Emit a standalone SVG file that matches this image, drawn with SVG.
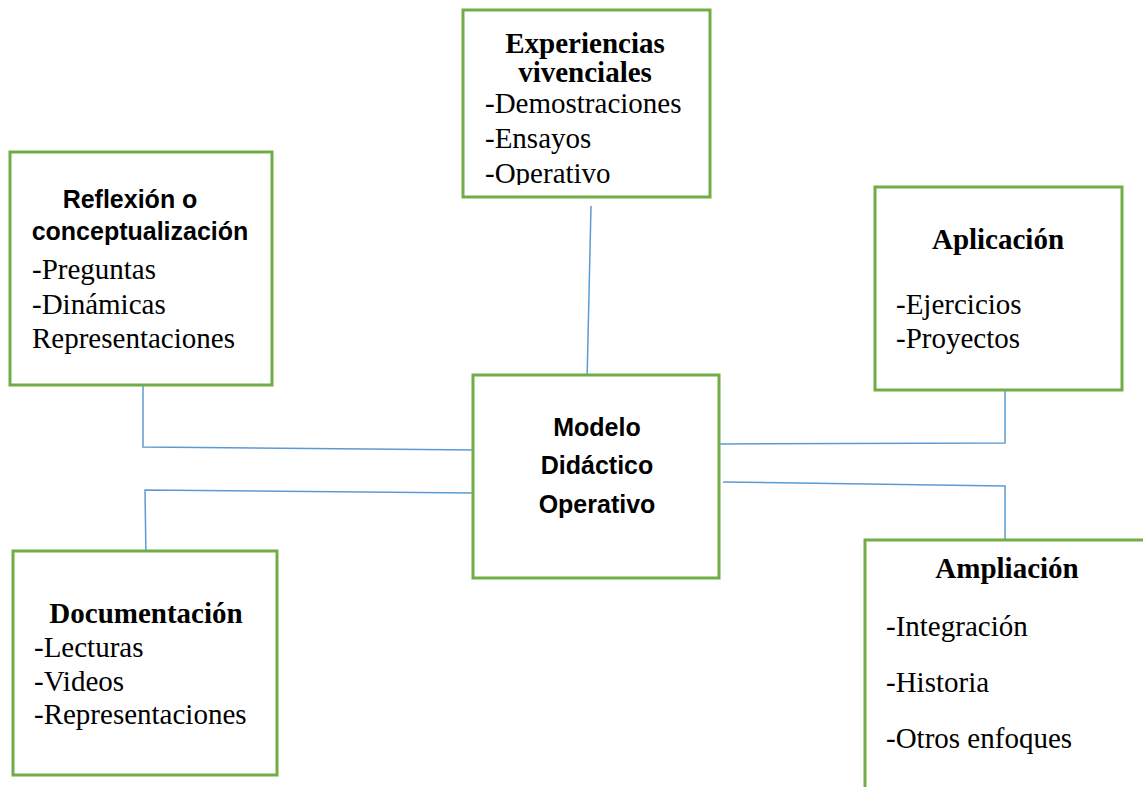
<svg xmlns="http://www.w3.org/2000/svg" width="1143" height="787" viewBox="0 0 1143 787">
<style>
.box{fill:#fff;stroke:#70AD47;stroke-width:3}
.ln{fill:none;stroke:#5B9BD5;stroke-width:1.5}
.hs{font-family:"Liberation Sans",Arial,sans-serif;font-weight:bold;font-size:25px;fill:#000;text-anchor:middle}
.hb{font-family:"Liberation Serif","Times New Roman",serif;font-weight:bold;font-size:29px;fill:#000;text-anchor:middle}
.t{font-family:"Liberation Serif","Times New Roman",serif;font-size:29px;fill:#000}
</style>
<defs>
<clipPath id="clipExp"><rect x="463" y="10" width="247" height="175"/></clipPath>
</defs>
<rect width="1143" height="787" fill="#fff"/>
<g id="connectors">
<polyline class="ln" points="591,206 587,382"/>
<polyline class="ln" points="143,385 143,447 477,450"/>
<polyline class="ln" points="146,558 145,490 473,493"/>
<polyline class="ln" points="719,444 1005,443 1005,390"/>
<polyline class="ln" points="723,482 1005,486 1005,542"/>
</g>
<g id="node-reflexion">
<rect class="box" x="10" y="152" width="262" height="233"/>
<text class="hs" x="130" y="208">Reflexión o</text>
<text class="hs" x="140" y="240">conceptualización</text>
<text class="t" x="32" y="279">-Preguntas</text>
<text class="t" x="32" y="314">-Dinámicas</text>
<text class="t" x="32" y="348">Representaciones</text>
</g>
<g id="node-experiencias">
<rect class="box" x="463" y="10" width="247" height="187"/>
<g clip-path="url(#clipExp)">
<text class="hb" x="585" y="53">Experiencias</text>
<text class="hb" x="585" y="82">vivenciales</text>
<text class="t" x="485" y="113">-Demostraciones</text>
<text class="t" x="485" y="148">-Ensayos</text>
<text class="t" x="485" y="183">-Operativo</text>
</g>
</g>
<g id="node-modelo">
<rect class="box" x="473" y="375" width="246" height="203"/>
<text class="hs" x="597" y="436">Modelo</text>
<text class="hs" x="597" y="474">Didáctico</text>
<text class="hs" x="597" y="513">Operativo</text>
</g>
<g id="node-aplicacion">
<rect class="box" x="875" y="187" width="247" height="203"/>
<text class="hb" x="998" y="249">Aplicación</text>
<text class="t" x="896" y="314">-Ejercicios</text>
<text class="t" x="896" y="348">-Proyectos</text>
</g>
<g id="node-documentacion">
<rect class="box" x="13" y="551" width="264" height="224"/>
<text class="hb" x="146" y="623">Documentación</text>
<text class="t" x="34" y="657">-Lecturas</text>
<text class="t" x="34" y="691">-Videos</text>
<text class="t" x="34" y="724">-Representaciones</text>
</g>
<g id="node-ampliacion">
<rect class="box" x="865" y="540" width="300" height="270"/>
<text class="hb" x="1007" y="578">Ampliación</text>
<text class="t" x="886" y="636">-Integración</text>
<text class="t" x="886" y="692">-Historia</text>
<text class="t" x="886" y="748">-Otros enfoques</text>
</g>
</svg>
